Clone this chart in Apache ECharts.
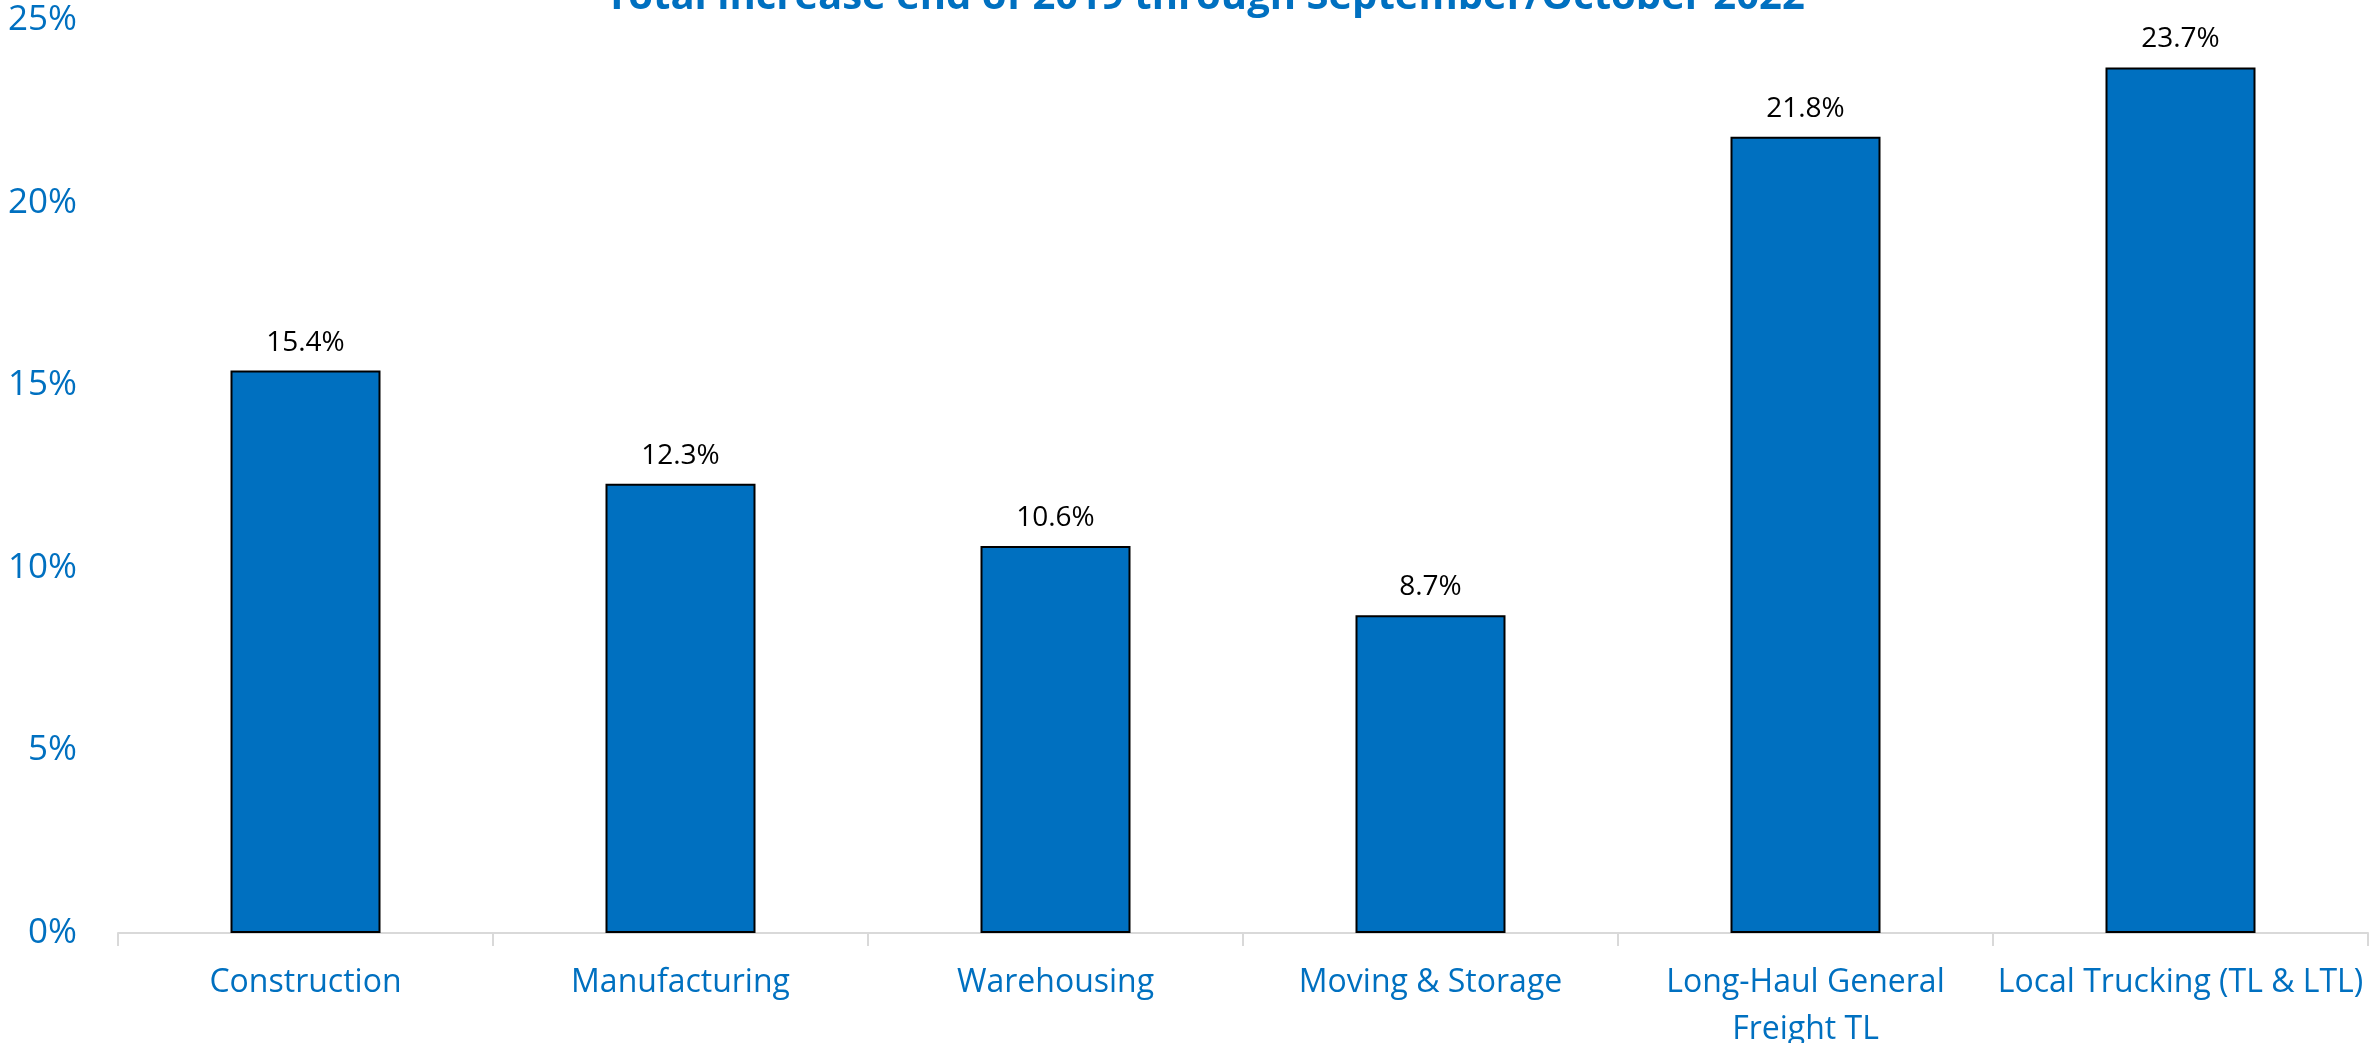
<!DOCTYPE html>
<html>
<head>
<meta charset="utf-8">
<script src="https://cdn.jsdelivr.net/npm/echarts@6/dist/echarts.min.js"></script>
<style>
  html, body { margin: 0; padding: 0; background: #fff; }
  #chart { width: 2371px; height: 1043px; }
</style>
</head>
<body>
<div id="chart"></div>
<script>
const categories = [
  'Construction',
  'Manufacturing',
  'Warehousing',
  'Moving & Storage',
  'Long-Haul General\nFreight TL',
  'Local Trucking (TL & LTL)'
]
const increase = [15.4, 12.3, 10.6, 8.7, 21.8, 23.7]
const titleText = 'Total increase end of 2019 through September/October 2022'

const blue = '#0070C0'
const font = 'Open Sans'

const chart = echarts.init(document.getElementById('chart'))

chart.setOption({
  animation: false,
  title: {
    text: titleText,
    left: 1200,
    top: -27,
    textAlign: 'center',
    textStyle: {
      color: blue,
      fontFamily: font,
      fontWeight: 'bold',
      fontSize: 40
    }
  },
  grid: {
    left: 118,
    right: 3,
    top: 20,
    bottom: 110,
    containLabel: false,
    outerBoundsMode: 'none'
  },
  xAxis: {
    type: 'category',
    data: categories,
    axisLine: { lineStyle: { color: '#D9D9D9', width: 2 } },
    axisTick: { show: true, length: 13, lineStyle: { color: '#D9D9D9', width: 2 } },
    axisLabel: {
      color: blue,
      fontFamily: font,
      fontSize: 32,
      lineHeight: 47,
      margin: 26,
      interval: 0
    }
  },
  yAxis: {
    type: 'value',
    min: 0,
    max: 25,
    interval: 5,
    axisLine: { show: false },
    axisTick: { show: false },
    splitLine: { show: false },
    axisLabel: {
      formatter: '{value}%',
      color: blue,
      fontFamily: font,
      fontSize: 35,
      margin: 41
    }
  },
  series: [
    {
      type: 'bar',
      data: increase,
      barWidth: 150,
      itemStyle: {
        color: blue,
        borderColor: '#000',
        borderWidth: 2
      },
      label: {
        show: true,
        position: 'top',
        distance: 14,
        formatter: p => p.value.toFixed(1) + '%',
        color: '#000',
        fontFamily: font,
        fontSize: 28
      }
    }
  ]
})
</script>
</body>
</html>
